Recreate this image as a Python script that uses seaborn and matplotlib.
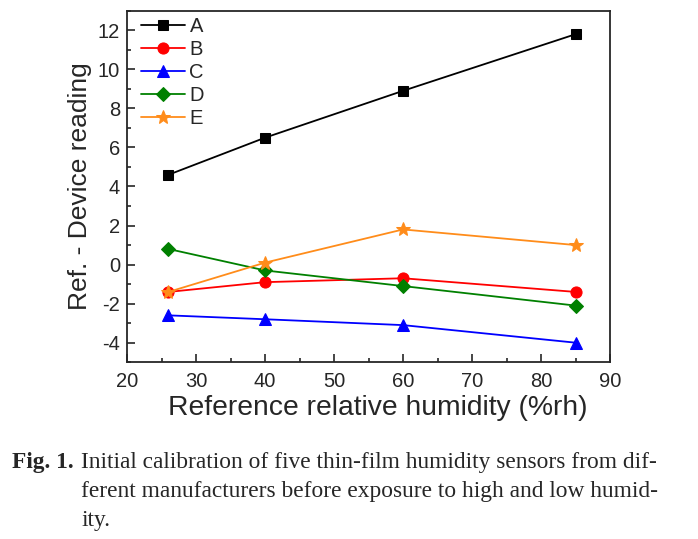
import pandas as pd
import seaborn as sns
import matplotlib.pyplot as plt
from matplotlib.ticker import MultipleLocator

# reference humidity points (%rh)
humidity = [26, 40, 60, 85]

# Ref. - Device reading for each sensor
sensor_a = [4.6, 6.5, 8.9, 11.8]
sensor_b = [-1.4, -0.9, -0.7, -1.4]
sensor_c = [-2.6, -2.8, -3.1, -4.0]
sensor_d = [0.8, -0.3, -1.1, -2.1]
sensor_e = [-1.4, 0.1, 1.8, 1.0]

sensors = ["A", "B", "C", "D", "E"]
colors = ["black", "#ff0000", "#0000ff", "#008000", "#ff8c1a"]
markers = ["s", "o", "^", "D", "*"]
sizes = [7, 8, 8, 7, 10]

rows = []
for name, vals in zip(sensors, [sensor_a, sensor_b, sensor_c, sensor_d, sensor_e]):
    for h, v in zip(humidity, vals):
        rows.append({"humidity": h, "value": v, "sensor": name})
df = pd.DataFrame(rows)

sns.set_style("ticks")
plt.rcParams["font.family"] = ["Liberation Sans", "DejaVu Sans"]
plt.rcParams["axes.unicode_minus"] = False

fig = plt.figure(figsize=(6.98, 5.39), dpi=100)
ax = fig.add_axes([0.182, 0.328, 0.692, 0.652])

for name, c, m, s in zip(sensors, colors, markers, sizes):
    sub = df[df["sensor"] == name]
    sns.lineplot(data=sub, x="humidity", y="value", ax=ax, color=c, marker=m,
                 markersize=s, markeredgecolor=c, linewidth=1.3, label=name)

ax.set_xlim(20, 90)
ax.set_ylim(-5, 13)
ax.xaxis.set_major_locator(MultipleLocator(10))
ax.xaxis.set_minor_locator(MultipleLocator(5))
ax.yaxis.set_major_locator(MultipleLocator(2))
ax.yaxis.set_minor_locator(MultipleLocator(1))
ax.tick_params(which="both", direction="in", labelsize=14.5, width=1.2)
ax.tick_params(which="major", length=6)
ax.tick_params(which="minor", length=3)
ax.tick_params(axis="x", which="major", pad=7)
ax.tick_params(axis="y", which="major", pad=5)
for sp in ax.spines.values():
    sp.set_linewidth(1.3)

ax.set_xlabel("Reference relative humidity (%rh)", fontsize=20.3)
ax.xaxis.set_label_coords(0.519, -0.13)
ax.xaxis.label.set_va("center")
ax.set_ylabel("Ref. - Device reading", fontsize=19, labelpad=4)

ax.legend(loc="upper left", bbox_to_anchor=(0, 1.022), frameon=False,
          fontsize=14.5, handlelength=2.2, labelspacing=0.2,
          borderaxespad=0.3, handletextpad=0.2)

# caption
fig.text(12 / 698, 1 - 468 / 539, "Fig. 1.", fontsize=16.8, fontweight="bold",
         family="Liberation Serif", va="baseline")
cap = ["Initial calibration of five thin-film humidity sensors from dif-",
       "ferent manufacturers before exposure to high and low humid-",
       "ity."]
for i, line in enumerate(cap):
    fig.text(81 / 698, 1 - (468 + 29 * i) / 539, line, fontsize=16.8,
             family="Liberation Serif", va="baseline")

fig.savefig("out.png", dpi=100)
